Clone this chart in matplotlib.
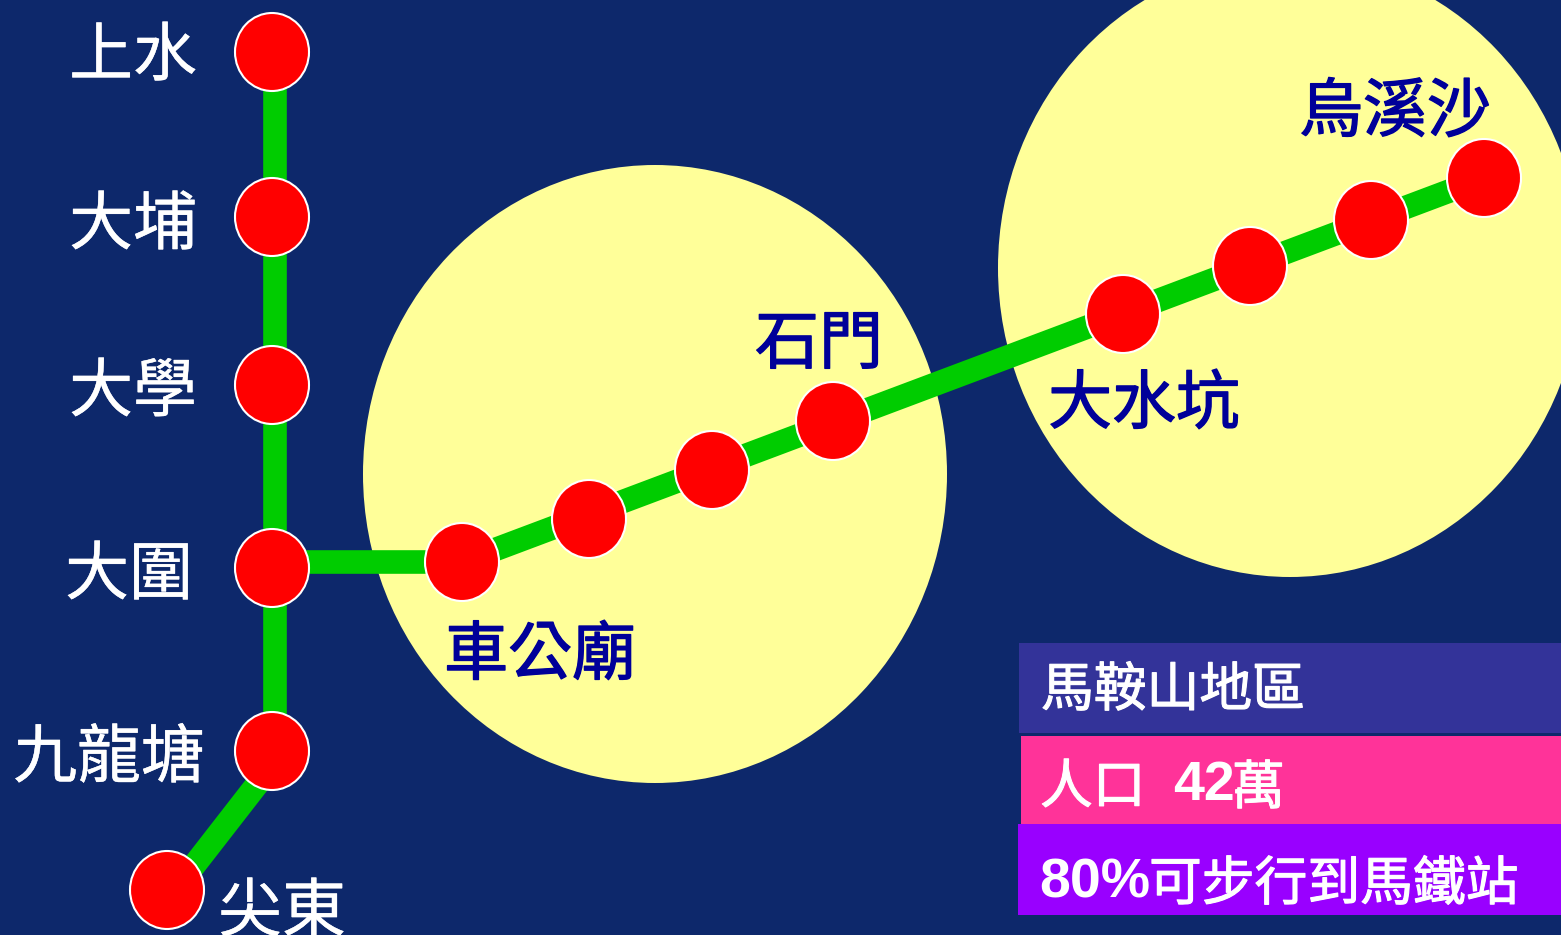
import matplotlib
matplotlib.use('Agg')
import matplotlib.pyplot as plt
import matplotlib.patheffects as pe
from matplotlib.patches import Ellipse, Rectangle

CJK = ['Noto Sans CJK TC', 'DejaVu Sans']
LATIN = ['Liberation Sans', 'DejaVu Sans']
plt.rcParams['font.family'] = CJK

# Station positions in pixels
east_rail_x = [272, 272, 272, 272, 272, 167]
east_rail_y = [52, 217, 385, 568, 751, 890]
ma_on_shan_x = [462, 589, 712, 833, 1123, 1250, 1371, 1484]
ma_on_shan_y = [562, 519, 470, 421, 314, 266, 220, 178]

# The last green stretch runs a little right of the station centres
tail_x = [283, 175]
tail_y = [751, 890]

# Labels: text, centre x, centre y
white_labels = ['上水', '大埔', '大學', '大圍', '九龍塘', '尖東']
white_label_x = [133, 133, 133, 129, 109, 282]
white_label_y = [57, 226, 393, 576, 759, 913]
blue_labels = ['車公廟', '石門', '大水坑', '烏溪沙']
blue_label_x = [540, 819, 1144, 1395]
blue_label_y = [656, 345, 405, 113]

# Catchment circles
circle_x = [655, 1290]
circle_y = [474, 268]

# Info boxes
box_colors = ['#333399', '#ff3399', '#9900ff']
box_left = [1019, 1021, 1018]
box_top = [643, 736, 824]
box_bottom = [733, 824, 915]

# Info box text runs: text, left x, baseline y, font, bold or not
run_texts = ['馬鞍山地區', '人口', '42', '萬', '80%', '可步行到馬鐵站']
run_x = [1041, 1040, 1173, 1232, 1039, 1149]
run_y = [706, 803, 800, 804, 898, 900]
run_latin = [False, False, True, False, True, False]

BACKGROUND = '#0d286b'
GREEN = '#00cc00'
YELLOW = '#ffff99'
RED = '#ff0000'
NAVY = '#000099'

fig = plt.figure(figsize=(15.61, 9.35), dpi=100, facecolor=BACKGROUND)
ax = fig.add_axes([0, 0, 1, 1])
ax.set_xlim(0, 1561)
ax.set_ylim(935, 0)
ax.axis('off')

# yellow circles first, everything else sits on them
for cx, cy in zip(circle_x, circle_y):
    ax.add_patch(Ellipse((cx, cy), 584, 618, facecolor=YELLOW, edgecolor='none', zorder=1))

# green lines
ax.plot([275, 275], [52, 751], color=GREEN, lw=17, solid_capstyle='butt', zorder=2)
ax.plot(tail_x, tail_y, color=GREEN, lw=17, solid_capstyle='butt', zorder=2)
ax.plot([east_rail_x[3], ma_on_shan_x[0]], [ma_on_shan_y[0], ma_on_shan_y[0]], color=GREEN, lw=17,
        solid_capstyle='butt', zorder=2)
# one straight run, the stations sit a little off it
ax.plot([ma_on_shan_x[0], ma_on_shan_x[-1]], [ma_on_shan_y[0], ma_on_shan_y[-1]], color=GREEN, lw=17,
        solid_capstyle='butt', zorder=2)

# stations
for sx, sy in zip(east_rail_x + ma_on_shan_x, east_rail_y + ma_on_shan_y):
    ax.add_patch(Ellipse((sx, sy), 74, 78, facecolor=RED, edgecolor='white', lw=1.5, zorder=3))

for label, lx, ly in zip(white_labels, white_label_x, white_label_y):
    ax.text(lx, ly, label, color='white', fontsize=46, ha='center', va='center', zorder=4,
            path_effects=[pe.withStroke(linewidth=0.3, foreground='white')])

for label, lx, ly in zip(blue_labels, blue_label_x, blue_label_y):
    ax.text(lx, ly, label, color=NAVY, fontsize=46, ha='center', va='center', zorder=4,
            path_effects=[pe.withStroke(linewidth=1.0, foreground=NAVY)])

# info boxes
for i in range(3):
    ax.add_patch(Rectangle((box_left[i], box_top[i]), 1561 - box_left[i], box_bottom[i] - box_top[i],
                           facecolor=box_colors[i], edgecolor='none', zorder=5))

# Latin runs are bold Arial-like, CJK runs a slightly thickened regular
for text, tx, ty, is_latin in zip(run_texts, run_x, run_y, run_latin):
    if is_latin:
        ax.text(tx, ty, text, color='white', family=LATIN, fontweight='bold', fontsize=40,
                ha='left', va='baseline', zorder=6)
    else:
        ax.text(tx, ty, text, color='white', fontsize=38, ha='left', va='baseline', zorder=6,
                path_effects=[pe.withStroke(linewidth=0.8, foreground='white')])

fig.savefig('out.png', dpi=100, facecolor=BACKGROUND)
